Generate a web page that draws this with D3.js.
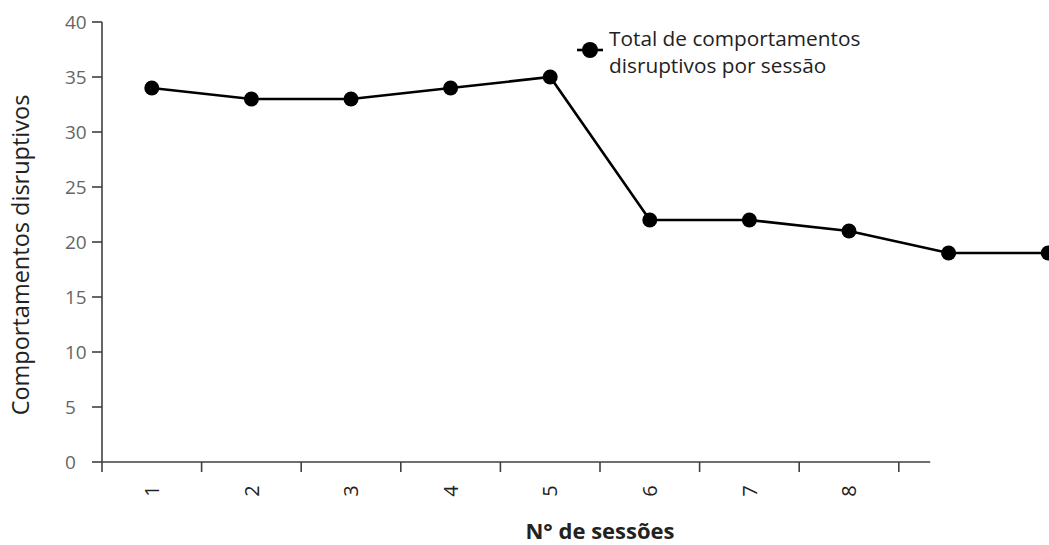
<!DOCTYPE html>
<html><head><meta charset="utf-8">
<script src="https://cdn.jsdelivr.net/npm/d3@7/dist/d3.min.js"></script>
<style>body{margin:0;background:#fff}svg{display:block}</style>
</head><body>
<svg id="c" width="1049" height="545"></svg>
<script>
const sessions = [1,2,3,4,5,6,7,8,9,10];
const values = [34,33,33,34,35,22,22,21,19,19];
const xTickLabels = ["1","2","3","4","5","6","7","8"];
const yTicks = [0,5,10,15,20,25,30,35,40];
const yTitle = "Comportamentos disruptivos";
const xTitle = "N° de sessões";
const legendLines = ["Total de comportamentos","disruptivos por sessão"];

const font = "'Open Sans', 'Noto Sans', sans-serif";
const svg = d3.select("#c");
const x = d3.scaleBand().domain(sessions).range([102, 1098]).padding(0);
const y = d3.scaleLinear().domain([0,40]).range([462,22]);
const axisColor = "#404040";
const x0 = x.range()[0];
const xEnd = x(9) + x.bandwidth()*0.315;

// y axis
svg.append("line").attr("x1",x0).attr("x2",x0).attr("y1",y(40)).attr("y2",y(0)+10)
  .attr("stroke",axisColor).attr("stroke-width",1.6);
const yt = svg.append("g");
yTicks.forEach(v=>{
  yt.append("line").attr("x1",x0-10).attr("x2",x0).attr("y1",y(v)).attr("y2",y(v))
    .attr("stroke",axisColor).attr("stroke-width",1.6);
  yt.append("text").attr("x",65).attr("y",y(v)).attr("dy","0.36em")
    .attr("font-family",font).attr("font-size",19).attr("fill","#666")
    .text(v);
});
// x axis
svg.append("line").attr("x1",x0).attr("x2",xEnd).attr("y1",y(0)).attr("y2",y(0))
  .attr("stroke",axisColor).attr("stroke-width",1.6);
sessions.slice(0,9).forEach(s=>{
  const bx = x(s);
  if (bx > x0) svg.append("line").attr("x1",bx).attr("x2",bx).attr("y1",y(0)).attr("y2",y(0)+10)
    .attr("stroke",axisColor).attr("stroke-width",1.6);
});
xTickLabels.forEach((t,i)=>{
  const cx = x(sessions[i]) + x.bandwidth()/2;
  svg.append("text").attr("transform",`translate(${cx},491) rotate(-90)`)
    .attr("text-anchor","middle").attr("dy","0.36em")
    .attr("font-family",font).attr("font-size",20).attr("fill","#222").text(t);
});
// titles
svg.append("text").attr("transform","translate(29,255) rotate(-90)")
  .attr("text-anchor","middle").attr("font-family",font).attr("font-size",23.5)
  .attr("fill","#222").text(yTitle);
svg.append("text").attr("x",600).attr("y",539).attr("text-anchor","middle")
  .attr("font-family",font).attr("font-size",22).attr("font-weight","bold")
  .attr("fill","#222").text(xTitle);

// line
const line = d3.line().x((d,i)=>x(sessions[i])+x.bandwidth()/2).y(d=>y(d));
svg.append("path").datum(values).attr("d",line).attr("fill","none")
  .attr("stroke","#000").attr("stroke-width",2.6);
svg.selectAll("circle.pt").data(values).enter().append("circle").attr("class","pt")
  .attr("cx",(d,i)=>x(sessions[i])+x.bandwidth()/2).attr("cy",d=>y(d)).attr("r",7.5).attr("fill","#000");

// legend
const lg = svg.append("g");
lg.append("line").attr("x1",577).attr("x2",603).attr("y1",50).attr("y2",50).attr("stroke","#000").attr("stroke-width",2.6);
lg.append("circle").attr("cx",590).attr("cy",50).attr("r",8).attr("fill","#000");
legendLines.forEach((t,i)=>{
  lg.append("text").attr("x",609).attr("y",46+i*27).attr("font-family",font)
    .attr("font-size",20.8).attr("fill","#222").text(t);
});
</script>
</body></html>
